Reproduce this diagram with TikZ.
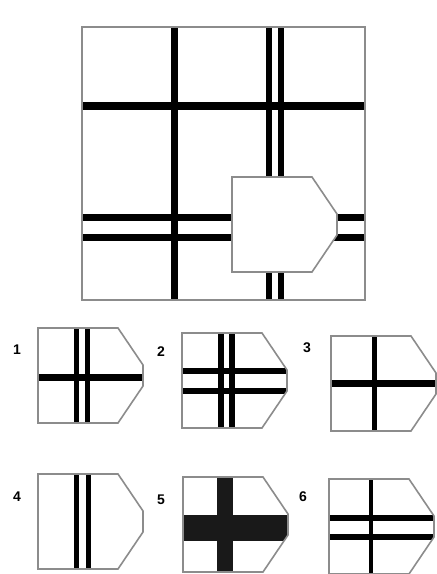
\documentclass[tikz,border=0pt]{standalone}
\usepackage{fontspec}
\setmainfont{Liberation Sans}
\newcommand\pentpath[2]{(#1,#2) -- ++(80,0) -- ++(25,37) -- ++(0,21) -- ++(-25,37) -- ++(-80,0) -- cycle}
\begin{document}
\begin{tikzpicture}[x=1pt,y=-1pt,
  frm/.style={draw=black!45,line width=1.6pt},
  bar/.style={draw=black,line width=#1},
  lbl/.style={font=\bfseries\fontsize{14}{14}\selectfont,inner sep=0pt}]
\useasboundingbox[fill=white] (0,0) rectangle (437,574);
% main panel
\begin{scope}
\clip (82,27) rectangle (365,300);
\draw[bar=7pt] (174,27) -- (174,300);
\draw[bar=6pt] (269,27) -- (269,300);
\draw[bar=6pt] (281,27) -- (281,300);
\draw[bar=8pt] (82,106) -- (365,106);
\draw[bar=7pt] (82,217) -- (365,217);
\draw[bar=7pt] (82,237) -- (365,237);
\end{scope}
\draw[frm] (82,27) rectangle (365,300);
\filldraw[frm,fill=white] \pentpath{232}{177};
% option 1
\begin{scope}\clip \pentpath{38}{328};
\draw[bar=5pt] (76,320) -- (76,430);
\draw[bar=5pt] (87,320) -- (87,430);
\draw[bar=7pt] (30,377) -- (150,377);
\end{scope}
\draw[frm] \pentpath{38}{328};
\node[lbl] (l1) at (17,350) {1};
% option 2
\begin{scope}\clip \pentpath{182}{333};
\draw[bar=6pt] (221,325) -- (221,435);
\draw[bar=6pt] (232,325) -- (232,435);
\draw[bar=6pt] (175,371) -- (295,371);
\draw[bar=6pt] (175,391) -- (295,391);
\end{scope}
\draw[frm] \pentpath{182}{333};
\node[lbl] (l2) at (161,352) {2};
% option 3
\begin{scope}\clip \pentpath{331}{336};
\draw[bar=5pt] (374,330) -- (374,440);
\draw[bar=7pt] (325,383) -- (440,383);
\end{scope}
\draw[frm] \pentpath{331}{336};
\node[lbl] (l3) at (307,348) {3};
% option 4
\begin{scope}\clip \pentpath{38}{474};
\draw[bar=5pt] (76,465) -- (76,580);
\draw[bar=5pt] (88,465) -- (88,580);
\end{scope}
\draw[frm] \pentpath{38}{474};
\node[lbl] (l4) at (17,497) {4};
% option 5
\begin{scope}\clip \pentpath{183}{477};
\fill[black!90] (217,470) rectangle (233,580);
\fill[black!90] (175,515) rectangle (295,541);
\end{scope}
\draw[frm] \pentpath{183}{477};
\node[lbl] (l5) at (161,500) {5};
% option 6
\begin{scope}\clip \pentpath{329}{479};
\draw[bar=4pt] (371,470) -- (371,580);
\draw[bar=6pt] (320,518) -- (440,518);
\draw[bar=6pt] (320,537) -- (440,537);
\end{scope}
\draw[frm] \pentpath{329}{479};
\node[lbl] (l6) at (303,497) {6};
\end{tikzpicture}
\end{document}
